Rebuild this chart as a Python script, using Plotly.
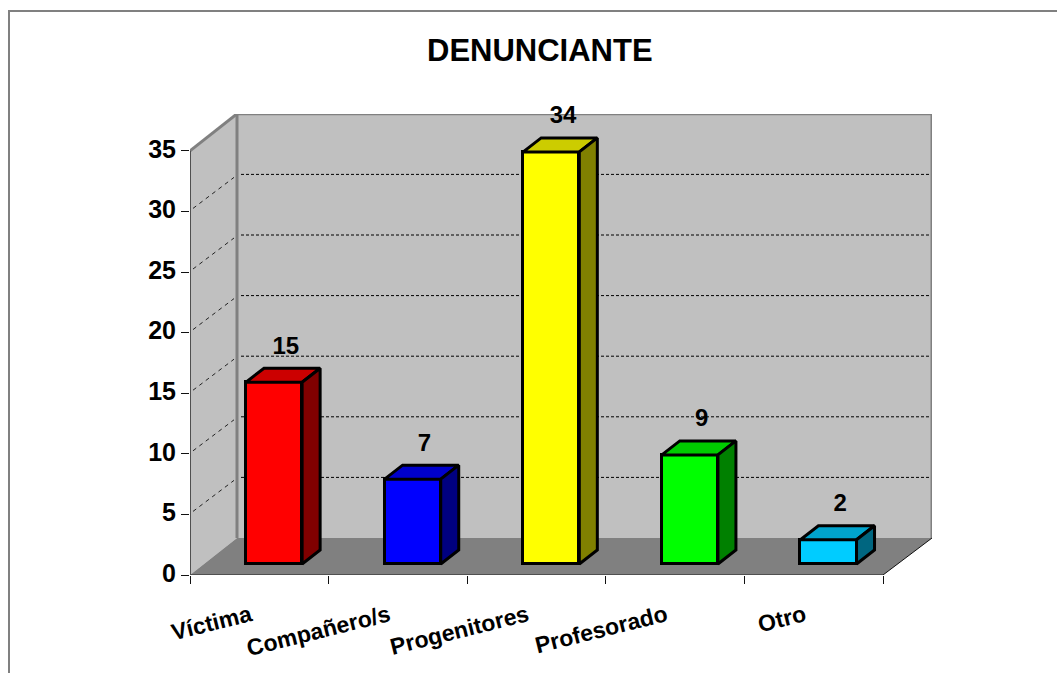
import plotly.graph_objects as go

TITLE = "DENUNCIANTE"
categories = ["Víctima", "Compañero/s", "Progenitores", "Profesorado", "Otro"]
values = [15, 7, 34, 9, 2]
front_colors = ["#ff0000", "#0000ff", "#ffff00", "#00ff00", "#00ccff"]
top_colors = ["#cc0000", "#0000cc", "#cccc00", "#00cc00", "#00a3cc"]
side_colors = ["#800000", "#000080", "#808000", "#008000", "#006680"]
y_ticks = [0, 5, 10, 15, 20, 25, 30, 35]

W, H = 1057, 673
PX_X0, PX_X1, PX_Y0, PX_Y1 = 190, 932, 575, 114
UNIT_X = 138.6
UNIT_Y = 12.12
WALL_DX, WALL_DY = 47 / UNIT_X, 37 / UNIT_Y
BAR_LEFT, BAR_W = 0.404, 0.405
BAR_BASE = 11 / UNIT_Y
BAR_DX, BAR_DY = 18 / UNIT_X, 14 / UNIT_Y
N = len(categories)
XMAX = (PX_X1 - PX_X0) / UNIT_X
YMAX = (PX_Y0 - PX_Y1) / UNIT_Y
FONT = "Liberation Sans"
TOP = y_ticks[-1]

fig = go.Figure()

centers = [i + 0.5 for i in range(N)]
fig.add_trace(go.Bar(
    x=centers, y=values, base=BAR_BASE,
    offset=BAR_LEFT - 0.5, width=BAR_W,
    marker=dict(color=front_colors, line=dict(color="black", width=3)),
    hoverinfo="skip", showlegend=False,
))

for i, v in enumerate(values):
    l = i + BAR_LEFT
    r = l + BAR_W
    b = BAR_BASE
    t = b + v
    fig.add_trace(go.Scatter(
        x=[l, r, r + BAR_DX, l + BAR_DX, l], y=[t, t, t + BAR_DY, t + BAR_DY, t],
        mode="lines", fill="toself", fillcolor=top_colors[i],
        line=dict(color="black", width=3), hoverinfo="skip", showlegend=False))
    fig.add_trace(go.Scatter(
        x=[r, r + BAR_DX, r + BAR_DX, r, r], y=[b, b + BAR_DY, t + BAR_DY, t, b],
        mode="lines", fill="toself", fillcolor=side_colors[i],
        line=dict(color="black", width=3), hoverinfo="skip", showlegend=False))

fig.add_trace(go.Scatter(
    x=[i + BAR_LEFT + BAR_W / 2 + 0.085 for i in range(N)],
    y=[v + BAR_BASE + BAR_DY + 0.7 for v in values],
    text=[str(v) for v in values], mode="text", textposition="top center",
    textfont=dict(family=FONT, size=24, color="black", weight="bold"),
    cliponaxis=False, hoverinfo="skip", showlegend=False))

shapes = []
def poly(xs, ys, fill):
    path = "M" + " L".join(f"{x},{y}" for x, y in zip(xs, ys)) + " Z"
    shapes.append(dict(type="path", path=path, xref="x", yref="y", fillcolor=fill,
                       line=dict(width=0), layer="below"))
def seg(x0, y0, x1, y1, color, width, dash="solid"):
    shapes.append(dict(type="line", x0=x0, y0=y0, x1=x1, y1=y1, xref="x", yref="y",
                       line=dict(color=color, width=width, dash=dash), layer="below"))

# back wall, side wall, floor
poly([WALL_DX, XMAX, XMAX, WALL_DX], [WALL_DY, WALL_DY, TOP + WALL_DY, TOP + WALL_DY], "#c0c0c0")
poly([0, WALL_DX, WALL_DX, 0], [0, WALL_DY, TOP + WALL_DY, TOP], "#c0c0c0")
poly([0, N, XMAX, WALL_DX], [0, 0, WALL_DY, WALL_DY], "#808080")

# gridlines on both walls
for tv in y_ticks[1:-1]:
    seg(WALL_DX + 4 / UNIT_X, tv + WALL_DY, XMAX, tv + WALL_DY, "#000000", 1, "3px,2px")
    seg(3 / UNIT_X, tv + 3 / UNIT_Y, WALL_DX - 3 / UNIT_X, tv + WALL_DY - 3 / UNIT_Y, "#222222", 1, "4px,4px")

# wall edges
seg(WALL_DX, WALL_DY, WALL_DX, TOP + WALL_DY, "#808080", 3)
seg(WALL_DX, TOP + WALL_DY, XMAX, TOP + WALL_DY, "#808080", 3)
seg(XMAX, WALL_DY, XMAX, TOP + WALL_DY, "#808080", 3)
seg(0, TOP, WALL_DX, TOP + WALL_DY, "#808080", 3)
seg(0, 0, 0, TOP, "#505050", 2)
seg(0, 0, N, 0, "#505050", 2)
seg(N, 0, XMAX, WALL_DY, "#111111", 1)

# outer chart frame
shapes.append(dict(type="path", path=f"M{9 / W},0 L{9 / W},{1 - 11 / H} L1,{1 - 11 / H}",
                   xref="paper", yref="paper", line=dict(color="#808080", width=2), layer="below"))

fig.update_layout(
    width=W, height=H, autosize=False,
    margin=dict(l=0, r=0, t=0, b=0, pad=0, autoexpand=False),
    paper_bgcolor="white", plot_bgcolor="rgba(0,0,0,0)",
    shapes=shapes, showlegend=False, bargap=0,
    font=dict(family=FONT, color="black"),
    xaxis=dict(
        domain=[PX_X0 / W, PX_X1 / W], range=[0, XMAX], showgrid=False, zeroline=False,
        showline=False, tickmode="array", tickvals=[c - 0.065 for c in centers], ticktext=categories,
        ticks="", tickangle=-14, tickfont=dict(family=FONT, size=23, color="black", weight="bold"),
        ticklabelstandoff=22, automargin=False,
        minor=dict(tickmode="linear", tick0=0, dtick=1, ticks="outside", ticklen=8,
                   tickcolor="#111111", tickwidth=1, showgrid=False),
    ),
    yaxis=dict(
        domain=[(H - PX_Y0) / H, (H - PX_Y1) / H], range=[0, YMAX], showgrid=False,
        zeroline=False, showline=False, tickmode="array", tickvals=y_ticks, automargin=False,
        ticks="outside", ticklen=8, tickcolor="#111111", tickwidth=1, ticklabelshift=-2,
        tickfont=dict(family=FONT, size=25, color="black", weight="bold"),
    ),
    annotations=[dict(text=f"<b>{TITLE}</b>", xref="paper", yref="paper", x=540 / W, y=1 - 51 / H,
                      xanchor="center", yanchor="middle", showarrow=False,
                      font=dict(family=FONT, size=31, color="black"))],
)
fig.write_html("out.html", post_script="document.body.style.margin='0';", config=dict(displayModeBar=False))
